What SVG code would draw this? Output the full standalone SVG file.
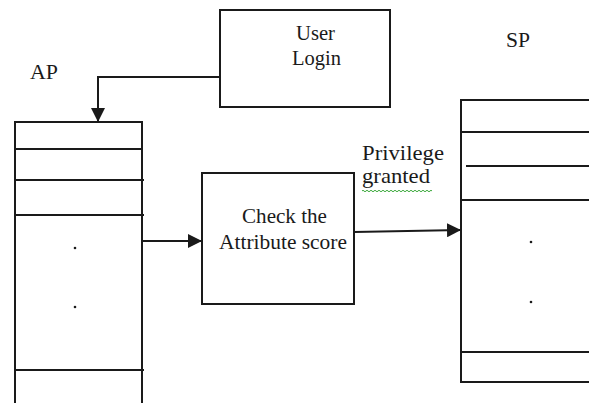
<svg xmlns="http://www.w3.org/2000/svg" width="589" height="403" viewBox="0 0 589 403">
<defs>
<style>
.box{fill:#fff;stroke:#1a1a1a;stroke-width:2}
.ln{stroke:#1a1a1a;stroke-width:2;fill:none}
.t{font-family:"Liberation Serif","Times New Roman",serif;font-size:21px;fill:#1a1a1a}
.dot{fill:#1a1a1a}
</style>
<marker id="ah" viewBox="0 0 10 10" refX="10" refY="5" markerWidth="14" markerHeight="14" markerUnits="userSpaceOnUse" orient="auto">
<path d="M0,0 L10,5 L0,10 z" fill="#1a1a1a"/>
</marker>
</defs>
<g id="user-login">
<rect class="box" x="220" y="10" width="170" height="97"/>
<text class="t" x="296" y="40" textLength="39" lengthAdjust="spacingAndGlyphs">User</text>
<text class="t" x="292" y="65" textLength="49" lengthAdjust="spacingAndGlyphs">Login</text>
</g>
<g id="ap">
<text class="t" x="30" y="79" textLength="28" lengthAdjust="spacingAndGlyphs">AP</text>
<rect class="box" x="15" y="122" width="127" height="290"/>
<line class="ln" x1="15" y1="149" x2="143" y2="149"/>
<line class="ln" x1="15" y1="180" x2="144" y2="180"/>
<line class="ln" x1="15" y1="215" x2="144" y2="215"/>
<line class="ln" x1="15" y1="370" x2="144" y2="370"/>
<circle class="dot" cx="75" cy="248" r="1.3"/>
<circle class="dot" cx="75" cy="307" r="1.3"/>
</g>
<g id="check">
<rect class="box" x="202" y="173" width="152" height="131"/>
<text class="t" x="242" y="223" textLength="85" lengthAdjust="spacingAndGlyphs">Check the</text>
<text class="t" x="219" y="249" textLength="128" lengthAdjust="spacingAndGlyphs">Attribute score</text>
</g>
<g id="sp">
<text class="t" x="506" y="47" textLength="24" lengthAdjust="spacingAndGlyphs">SP</text>
<rect class="box" x="461" y="100" width="140" height="282"/>
<line class="ln" x1="461" y1="132" x2="589" y2="132"/>
<line class="ln" x1="466" y1="166" x2="589" y2="166"/>
<line class="ln" x1="461" y1="200" x2="589" y2="200"/>
<line class="ln" x1="461" y1="352" x2="589" y2="352"/>
<circle class="dot" cx="531" cy="242" r="1.3"/>
<circle class="dot" cx="531" cy="302" r="1.3"/>
</g>
<g id="privilege-label">
<text class="t" x="362" y="160" textLength="82" lengthAdjust="spacingAndGlyphs">Privilege</text>
<text class="t" x="362" y="183" textLength="68" lengthAdjust="spacingAndGlyphs">granted</text>
<path d="M362,191 q1,-1.5 2,0 t2,0 t2,0 t2,0 t2,0 t2,0 t2,0 t2,0 t2,0 t2,0 t2,0 t2,0 t2,0 t2,0 t2,0 t2,0 t2,0 t2,0 t2,0 t2,0 t2,0 t2,0 t2,0 t2,0 t2,0 t2,0 t2,0 t2,0 t2,0 t2,0 t2,0 t2,0 t2,0 t2,0 t2,0" fill="none" stroke="#3aa83a" stroke-width="1"/>
</g>
<g id="connectors">
<polyline class="ln" points="220,77 98,77 98,122" marker-end="url(#ah)"/>
<line class="ln" x1="142" y1="241" x2="202" y2="241" marker-end="url(#ah)"/>
<line class="ln" x1="354" y1="232" x2="461" y2="230" marker-end="url(#ah)"/>
</g>
</svg>
